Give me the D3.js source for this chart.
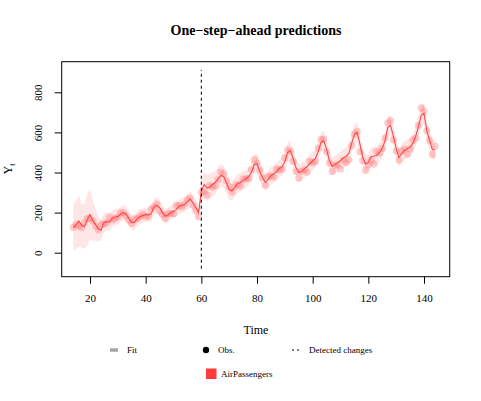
<!DOCTYPE html>
<html>
<head>
<meta charset="utf-8">
<script src="https://cdn.jsdelivr.net/npm/d3@7"></script>
<style>
  body { margin: 0; background: #fff; }
  svg text { font-family: "Liberation Serif", "DejaVu Serif", serif; fill: #000; }
</style>
</head>
<body>
<svg id="chart" width="481" height="401"></svg>
<script>
// Time index of every one-step-ahead prediction
var firstTime = 14;

// Observed values (AirPassengers, with the level shift from t = 60 on)
var obsValues = [
  126, 141, 135, 125, 149, 170, 170, 158, 133, 114, 140,
  145, 150, 178, 163, 172, 178, 199, 199, 184, 162, 146, 166,
  171, 180, 193, 181, 183, 218, 230, 242, 209, 191, 172, 194,
  196, 196, 236, 235, 229, 243, 264, 272, 237, 211, 180, 301,
  304, 288, 335, 327, 334, 364, 402, 393, 359, 329, 303, 329,
  342, 333, 367, 369, 370, 415, 464, 447, 412, 374, 337, 378,
  384, 377, 417, 413, 418, 474, 513, 505, 455, 406, 371, 406,
  415, 401, 456, 448, 455, 522, 565, 567, 504, 447, 405, 436,
  440, 418, 462, 448, 463, 535, 591, 605, 504, 459, 410, 437,
  460, 442, 506, 496, 520, 572, 648, 659, 563, 507, 462, 505,
  517, 491, 519, 561, 572, 635, 722, 706, 608, 561, 490, 532
];

// One-step-ahead predicted mean
var fitValues = [
  125, 140, 158, 135, 130, 165, 191, 160, 140, 118, 113,
  150, 155, 152, 170, 178, 180, 192, 200, 192, 170, 150, 152,
  170, 180, 185, 190, 188, 195, 230, 236, 225, 200, 182, 188,
  200, 205, 215, 232, 235, 240, 255, 268, 248, 225, 200, 305,
  340, 322, 328, 340, 350, 368, 385, 380, 350, 315, 308, 325,
  345, 350, 362, 368, 380, 400, 440, 445, 405, 375, 350, 365,
  385, 392, 405, 420, 428, 455, 500, 508, 470, 425, 400, 405,
  418, 430, 445, 458, 470, 505, 550, 558, 515, 460, 430, 440,
  448, 460, 472, 480, 495, 545, 590, 600, 540, 475, 442, 450,
  480, 482, 485, 500, 520, 560, 625, 635, 580, 520, 475, 495,
  510, 518, 525, 545, 580, 630, 685, 695, 610, 560, 515, 512
];

// Half-width of the prediction band
var bandWidth = [
  115, 122, 128, 108, 112, 128, 125, 100, 80, 62, 52,
  48, 45, 43, 41, 40, 40, 39, 39, 38, 38, 37, 37,
  37, 37, 36, 36, 36, 37, 38, 39, 38, 37, 36, 36,
  36, 36, 37, 37, 37, 38, 39, 40, 39, 38, 38, 58,
  68, 65, 63, 61, 59, 58, 57, 55, 53, 51, 49, 48,
  47, 46, 45, 45, 45, 46, 48, 49, 47, 45, 44, 44,
  44, 44, 44, 44, 45, 47, 49, 49, 47, 45, 44, 44,
  44, 44, 45, 45, 45, 47, 49, 49, 47, 45, 44, 44,
  44, 44, 45, 45, 45, 47, 49, 50, 48, 46, 45, 45,
  45, 45, 46, 46, 46, 48, 50, 51, 49, 47, 46, 46,
  46, 46, 47, 47, 48, 50, 52, 53, 51, 49, 48, 48
];

var changePoints = [60];
var xTicks = [20, 40, 60, 80, 100, 120, 140];
var yTicks = [0, 200, 400, 600, 800];
var seriesName = "AirPassengers";

var data = obsValues.map(function(d, i) {
  return { t: firstTime + i, obs: d, fit: fitValues[i], lo: fitValues[i] - bandWidth[i], hi: fitValues[i] + bandWidth[i] };
});

var svg = d3.select("#chart");
var plot = { left: 61.7, right: 449.7, top: 61.7, bottom: 276.7 };

var x = d3.scaleLinear().domain([9.83, 149.23]).range([plot.left, plot.right]);
var y = d3.scaleLinear().domain([-119.7, 952.6]).range([plot.bottom, plot.top]);

// Prediction band
svg.append("path")
  .datum(data)
  .attr("fill", "#ffe6e6")
  .attr("d", d3.area()
    .x(function(d) { return x(d.t); })
    .y0(function(d) { return y(d.lo); })
    .y1(function(d) { return y(d.hi); }));

// Observations
svg.append("g").selectAll("circle")
  .data(data)
  .enter().append("circle")
  .attr("cx", function(d) { return x(d.t); })
  .attr("cy", function(d) { return y(d.obs); })
  .attr("r", 3.6)
  .attr("fill", "#ff7070")
  .attr("fill-opacity", 0.35);

// Fit line
svg.append("path")
  .datum(data)
  .attr("fill", "none")
  .attr("stroke", "#ff4545")
  .attr("stroke-width", 1.1)
  .attr("d", d3.line()
    .x(function(d) { return x(d.t); })
    .y(function(d) { return y(d.fit); }));

// Detected changes
svg.append("g").selectAll("line")
  .data(changePoints)
  .enter().append("line")
  .attr("x1", function(d) { return x(d); })
  .attr("x2", function(d) { return x(d); })
  .attr("y1", y(-80))
  .attr("y2", y(912))
  .attr("stroke", "#000")
  .attr("stroke-width", 1)
  .attr("stroke-dasharray", "3,3");

// Box
svg.append("rect")
  .attr("x", plot.left).attr("y", plot.top)
  .attr("width", plot.right - plot.left)
  .attr("height", plot.bottom - plot.top)
  .attr("fill", "none")
  .attr("stroke", "#000")
  .attr("stroke-width", 1);

// Axes
var xAxis = svg.append("g")
  .attr("transform", "translate(0," + plot.bottom + ")")
  .call(d3.axisBottom(x).tickValues(xTicks).tickSize(7).tickPadding(7));
var yAxis = svg.append("g")
  .attr("transform", "translate(" + plot.left + ",0)")
  .call(d3.axisLeft(y).tickValues(yTicks).tickSize(7).tickPadding(4));

[xAxis, yAxis].forEach(function(ax) {
  ax.select(".domain").remove();
  ax.selectAll("text").style("font-family", "Liberation Serif").style("font-size", "11px");
});
yAxis.selectAll(".tick text")
  .attr("x", 0).attr("dy", 0)
  .attr("text-anchor", "middle")
  .attr("transform", "translate(-19.5,0) rotate(-90)");
xAxis.selectAll(".tick text").attr("dy", "1em");

// Title and labels
svg.append("text")
  .attr("x", 256).attr("y", 35)
  .attr("text-anchor", "middle")
  .style("font-size", "14px").style("font-weight", "bold")
  .text("One\u2212step\u2212ahead predictions");

svg.append("text")
  .attr("x", 256).attr("y", 334)
  .attr("text-anchor", "middle")
  .style("font-size", "12px")
  .text("Time");

var ylab = svg.append("text")
  .attr("transform", "translate(12,169) rotate(-90)")
  .attr("text-anchor", "middle")
  .style("font-size", "12px");
ylab.append("tspan").text("Y");
ylab.append("tspan").attr("dy", 3).style("font-size", "8px").text("t");

// Legend
var legend = svg.append("g").style("font-size", "9px");
legend.append("rect").attr("x", 110).attr("y", 348).attr("width", 8).attr("height", 4).attr("fill", "#bdbdbd");
legend.append("line").attr("x1", 110).attr("x2", 118).attr("y1", 350).attr("y2", 350).attr("stroke", "#8a8a8a").attr("stroke-width", 1);
legend.append("text").attr("x", 127).attr("y", 353).text("Fit");
legend.append("circle").attr("cx", 206).attr("cy", 350).attr("r", 3.2).attr("fill", "#000");
legend.append("text").attr("x", 218).attr("y", 353).text("Obs.");
legend.append("line").attr("x1", 292).attr("x2", 301).attr("y1", 350).attr("y2", 350)
  .attr("stroke", "#000").attr("stroke-dasharray", "2,3");
legend.append("text").attr("x", 309).attr("y", 353).text("Detected changes");
legend.append("rect").attr("x", 206).attr("y", 368.5).attr("width", 10.5).attr("height", 10.5).attr("fill", "#ff3b3b");
legend.append("text").attr("x", 221).attr("y", 377).text(seriesName);
</script>
</body>
</html>
